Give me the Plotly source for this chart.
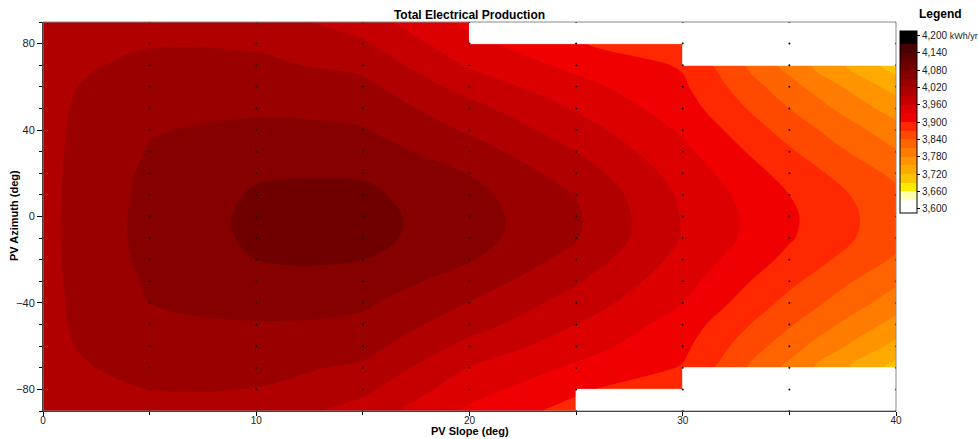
import plotly.graph_objects as go
import math

nan = float("nan")

slope_deg = [0, 5, 10, 15, 20, 25, 30, 35, 40]
azimuth_deg = [-90, -80, -70, -60, -50, -40, -30, -20, -10, 0, 10, 20, 30, 40, 50, 60, 70, 80, 90]

# Total electrical production (kWh/yr), one row per azimuth (bottom to top), one column per slope
production = [
    [4012, 4015, 4008, 3978, 3925, 3888, nan, nan, nan],     # -90
    [4012, 4020, 4019, 3997, 3941, 3906, 3872, nan, nan],    # -80
    [4012, 4028, 4029, 4015, 3959, 3925, 3898, 3802, 3709],  # -70
    [4012, 4039, 4038, 4031, 3981, 3943, 3907, 3823, 3741],  # -60
    [4012, 4046, 4048, 4043, 4003, 3960, 3916, 3843, 3769],  # -50
    [4012, 4050, 4060, 4055, 4019, 3977, 3930, 3861, 3795],  # -40
    [4012, 4054, 4071, 4067, 4037, 3993, 3940, 3877, 3815],  # -30
    [4012, 4058, 4080, 4080, 4052, 4009, 3950, 3892, 3836],  # -20
    [4012, 4060, 4085, 4089, 4062, 4022, 3958, 3903, 3850],  # -10
    [4012, 4060, 4086, 4090, 4063, 4024, 3958, 3905, 3852],  # 0
    [4012, 4058, 4083, 4086, 4059, 4019, 3955, 3900, 3847],  # 10
    [4012, 4056, 4077, 4077, 4049, 4006, 3947, 3889, 3833],  # 20
    [4012, 4052, 4068, 4064, 4034, 3990, 3937, 3874, 3812],  # 30
    [4012, 4048, 4057, 4052, 4016, 3974, 3926, 3858, 3792],  # 40
    [4012, 4044, 4045, 4040, 4000, 3957, 3914, 3840, 3766],  # 50
    [4012, 4037, 4035, 4028, 3978, 3940, 3905, 3821, 3738],  # 60
    [4012, 4026, 4026, 4012, 3956, 3922, 3897, 3800, 3706],  # 70
    [4012, 4018, 4016, 3994, 3938, 3903, 3870, nan, nan],    # 80
    [4012, 4013, 4005, 3975, 3922, nan, nan, nan, nan],      # 90
]

# legend levels
level_min = 3600
level_max = 4200
level_step = 30
legend_ticks = [3600, 3660, 3720, 3780, 3840, 3900, 3960, 4020, 4080, 4140, 4200]
legend_labels = ["3,600", "3,660", "3,720", "3,780", "3,840", "3,900", "3,960",
                 "4,020", "4,080", "4,140", "4,200 <span style='font-size:9px'>kWh/yr</span>"]

# band colours from 3600-3630 up to 4170-4200
band_colors = [
    "#ffffff", "#ffffb0", "#ffea00", "#ffc400", "#ffaa00",
    "#ff9400", "#ff7c00", "#ff6400", "#ff4800", "#ff2800",
    "#f00000", "#dc0000", "#c60000", "#b00000", "#9a0000",
    "#860000", "#700000", "#5c0000", "#480000", "#000000",
]
all_cols = [band_colors[0]] + band_colors + [band_colors[-1]]
n = len(all_cols) - 1
colorscale = [[i / n, c] for i, c in enumerate(all_cols)]

W, H = 978, 439
L, T, R, B = 43, 22, 82, 28
pw, ph = W - L - R, H - T - B


def px_x(px):
    return (px - L) / pw


def px_y(py):
    return (H - B - py) / ph


fig = go.Figure()

fig.add_trace(go.Contour(
    x=slope_deg, y=azimuth_deg, z=production,
    connectgaps=True,
    colorscale=colorscale,
    autocontour=False,
    contours=dict(start=level_min, end=level_max, size=level_step, coloring="fill", showlines=False),
    line=dict(width=0, smoothing=1),
    colorbar=dict(
        x=px_x(900), xanchor="left", xpad=0,
        y=px_y(31), yanchor="top", ypad=0,
        len=(213 - 31) / ph, lenmode="fraction",
        thickness=17,
        outlinecolor="black", outlinewidth=1,
        tickmode="array", tickvals=legend_ticks, ticktext=legend_labels,
        ticks="outside", ticklen=3, tickcolor="black",
        tickfont=dict(family="Liberation Sans, Arial", size=10, color="#222"),
    ),
    hoverinfo="skip",
))

# white cells where grid data are missing
mx, my = [], []
for j in range(len(azimuth_deg) - 1):
    for i in range(len(slope_deg) - 1):
        corners = [production[j][i], production[j][i + 1], production[j + 1][i], production[j + 1][i + 1]]
        if any(math.isnan(v) for v in corners):
            x0, x1 = slope_deg[i], slope_deg[i + 1]
            y0, y1 = azimuth_deg[j], azimuth_deg[j + 1]
            mx += [x0, x1, x1, x0, x0, None]
            my += [y0, y0, y1, y1, y0, None]
fig.add_trace(go.Scatter(x=mx, y=my, mode="lines", fill="toself", fillcolor="white",
                         line=dict(color="white", width=1), hoverinfo="skip", showlegend=False))

# grid-point dots
gx, gy = [], []
for a in azimuth_deg:
    for s in slope_deg:
        gx.append(s)
        gy.append(a)
fig.add_trace(go.Scatter(x=gx, y=gy, mode="markers",
                         marker=dict(size=2, color="black"), hoverinfo="skip", showlegend=False))

font_family = "Liberation Sans, Arial, sans-serif"
fig.update_layout(
    width=W, height=H,
    margin=dict(l=L, r=R, t=T, b=B, autoexpand=False),
    paper_bgcolor="white", plot_bgcolor="white",
    font=dict(family=font_family, size=11, color="#222"),
    showlegend=False,
    title=dict(text="<b>Total Electrical Production</b>", x=0.5, xref="paper", xanchor="center",
               y=1 - 15 / H, yanchor="middle", font=dict(size=12, color="black")),
    xaxis=dict(range=[0, 40], tickvals=[0, 10, 20, 30, 40], ticks="outside", ticklen=4,
               tickcolor="black", showgrid=False, zeroline=False, automargin=False,
               showline=True, linecolor="black", linewidth=1, ticklabelstandoff=-4,
               minor=dict(dtick=5, ticks="outside", ticklen=3, tickcolor="black", showgrid=False),
               tickfont=dict(size=10, color="#222")),
    yaxis=dict(range=[-90, 90], tickvals=[-80, -40, 0, 40, 80], ticks="outside", ticklen=5,
               tickcolor="black", showgrid=False, zeroline=False, automargin=False,
               showline=True, linecolor="black", linewidth=1,
               minor=dict(dtick=10, ticks="outside", ticklen=3, tickcolor="black", showgrid=False),
               tickfont=dict(size=11, color="#222")),
    shapes=[dict(type="rect", xref="x domain", yref="y domain", x0=0, x1=1, y0=0, y1=1,
                 line=dict(color="#888", width=1), layer="above")],
    annotations=[
        dict(text="<b>Legend</b>", xref="paper", yref="paper", x=px_x(940), y=px_y(14),
             showarrow=False, font=dict(size=12, color="black"), xanchor="center", yanchor="middle"),
        dict(text="<b>PV Slope (deg)</b>", xref="paper", yref="paper", x=0.5, y=px_y(439),
             showarrow=False, font=dict(size=11, color="black"), xanchor="center", yanchor="bottom"),
        dict(text="<b>PV Azimuth (deg)</b>", xref="paper", yref="paper", x=px_x(14), y=px_y(216),
             showarrow=False, textangle=-90, font=dict(size=11, color="black"),
             xanchor="center", yanchor="middle"),
    ],
)

fig.write_html("out.html",
               config={"displayModeBar": False},
               post_script="document.body.style.margin='0px';document.body.style.overflow='hidden';")
